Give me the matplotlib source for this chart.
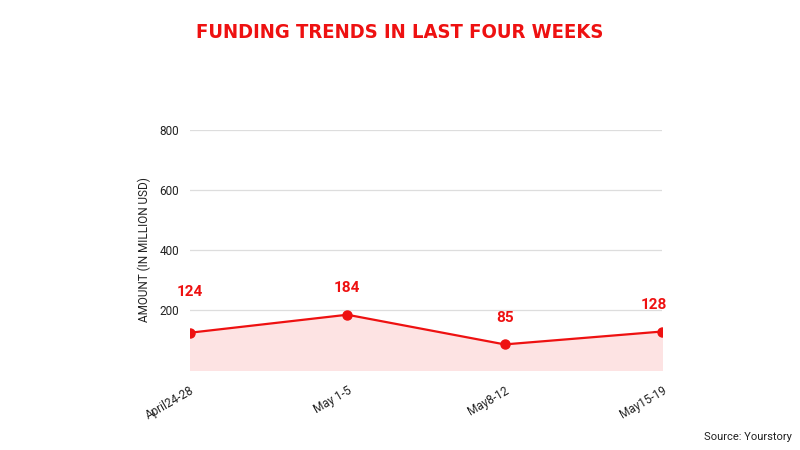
import matplotlib.pyplot as plt

weeks = ["April24-28", "May 1-5", "May8-12", "May15-19"]
amounts = [124, 184, 85, 128]
yticks = [200, 400, 600, 800]

red = "#ee1111"
plt.rcParams['font.family'] = ['Roboto', 'DejaVu Sans']

fig = plt.figure(figsize=(8, 4.5), dpi=100)
ax = fig.add_axes([0.2375, 0.178, 0.59, 0.533])

x = list(range(len(weeks)))
ax.fill_between(x, amounts, 0, color="#fde3e3", zorder=1)
ax.plot(x, amounts, color=red, lw=1.6, marker="o", ms=6.5, zorder=3, clip_on=True)

# small per-label nudges so the end labels stay readable
nudges = [(0, 24), (0, 14), (0, 14), (-6, 14)]
for xi, v, (dx, dy) in zip(x, amounts, nudges):
    ax.annotate(str(v), (xi, v), xytext=(dx, dy), textcoords="offset points",
                ha="center", va="bottom", color=red, fontsize=11, fontweight="bold",
                zorder=4, annotation_clip=False)

ax.set_xlim(0, len(weeks) - 1)
ax.set_ylim(0, 800)
ax.set_yticks(yticks)
ax.set_yticklabels([str(t) for t in yticks], fontsize=8.5, color="#222222")
ax.set_xticks(x)
ax.set_xticklabels(weeks, rotation=30, ha="right", fontsize=8.5, color="#222222",
                   rotation_mode="anchor")
ax.tick_params(axis="y", length=0, pad=8)
ax.tick_params(axis="x", length=0, pad=10)
ax.grid(axis="y", color="#dddddd", lw=0.9, zorder=0)
ax.set_axisbelow(True)
for s in ax.spines.values():
    s.set_visible(False)
ax.set_ylabel("AMOUNT (IN MILLION USD)", fontsize=8.5, color="#222222", labelpad=6)

fig.text(0.5, 0.927, "FUNDING TRENDS IN LAST FOUR WEEKS", ha="center", va="center",
         color=red, fontsize=14.5, fontweight="bold", fontstretch="condensed",
         family=["DejaVu Sans"])
fig.text(0.99, 0.03, "Source: Yourstory", ha="right", va="center",
         fontsize=8, color="#222222")

fig.savefig("out.png", dpi=100)
